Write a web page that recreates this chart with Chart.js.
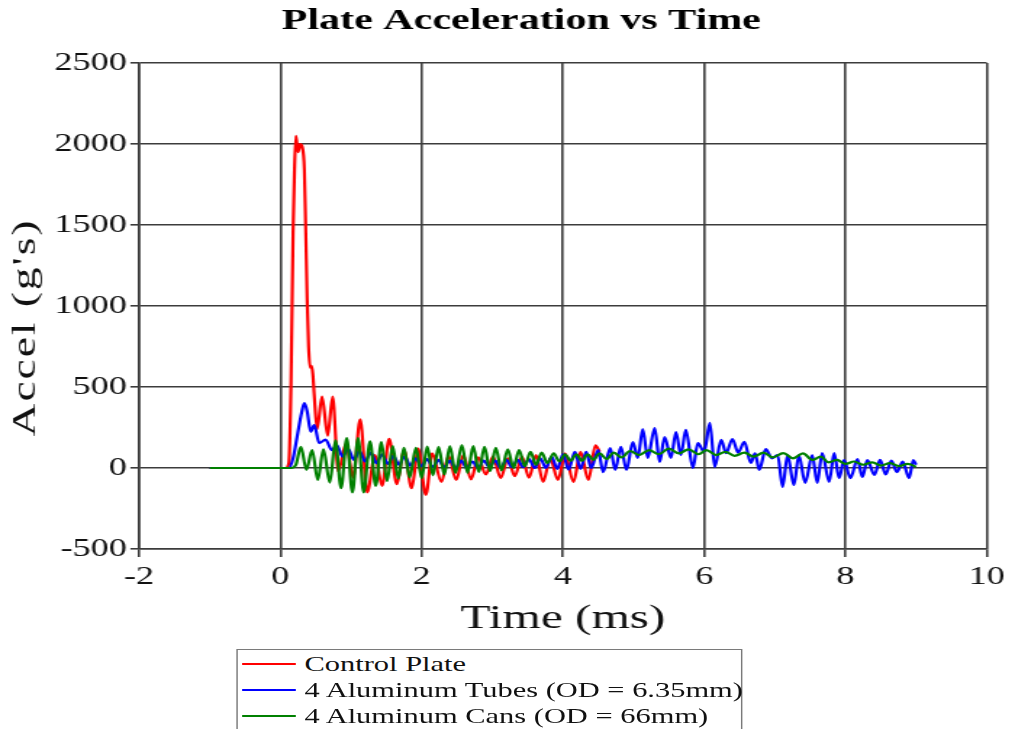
<!DOCTYPE html>
<html>
<head>
<meta charset="utf-8">
<script src="https://cdn.jsdelivr.net/npm/chart.js@4/dist/chart.umd.min.js"></script>
<style>
  html, body { margin: 0; padding: 0; background: #fff; overflow: hidden; width: 1012px; height: 729px; }
  #stage { position: absolute; left: 0; top: 0; width: 698px; height: 729px; transform: scaleX(1.45); transform-origin: 0 0; }
  #chart { position: absolute; left: 0; top: 0; }
  #legend { position: absolute; left: 163px; top: 649px; width: 349px; height: 90px; border: 1px solid #7a7a7a; box-sizing: border-box;
            font-family: "Liberation Serif", "Times New Roman", serif; font-size: 21px; color: #111; background: #fff; }
  .row { position: absolute; left: 0; height: 26px; width: 100%; }
  .sw { position: absolute; left: 3px; top: 12px; width: 37px; height: 2px; }
  .lb { position: absolute; left: 46px; top: 0; line-height: 26px; white-space: nowrap; }
</style>
</head>
<body>
<div id="stage">
  <canvas id="chart" width="698" height="642"></canvas>
  <div id="legend"></div>
</div>
<script>
// ---- data ----
const chartTitle = 'Plate Acceleration vs Time';
const xAxisTitle = 'Time (ms)';
const yAxisTitle = "Accel (g's)";
const seriesNames = ['Control Plate', '4 Aluminum Tubes (OD = 6.35mm)', '4 Aluminum Cans (OD = 66mm)'];
const seriesColors = ['#ff0000', '#0000ff', '#008000'];
const xRange = [-2, 10];
const yRange = [-500, 2500];

const redTime = [-1.0, 0.0, 0.08, 0.12, 0.15, 0.18, 0.20, 0.22, 0.25, 0.28,
  0.31, 0.34, 0.36, 0.38, 0.40, 0.42, 0.44, 0.46, 0.48, 0.52,
  0.59, 0.67, 0.74, 0.82, 0.93, 1.03, 1.13, 1.23, 1.34, 1.44,
  1.54, 1.65, 1.75, 1.86, 1.95, 2.06, 2.15, 2.28, 2.38, 2.49,
  2.59, 2.70, 2.80, 2.91, 3.01, 3.12, 3.22, 3.32, 3.42, 3.52,
  3.62, 3.72, 3.82, 3.93, 4.03, 4.15, 4.25, 4.36, 4.46, 4.52];
const redAccel = [0, 0, 0, 30, 500, 1450, 1840, 2050, 1950, 2000,
  1980, 1840, 1450, 1040, 750, 620, 630, 580, 450, 240,
  440, 200, 440, -20, 150, -60, 300, -150, 80, -110,
  180, -100, 110, -125, 120, -165, 90, -86, 75, -74,
  80, -70, 65, -40, 70, -62, 60, -50, 70, -60,
  80, -86, 60, -74, 90, -86, 100, -74, 140, 100];

const blueTime = [-1.0, 0.0, 0.12, 0.18, 0.24, 0.30, 0.34, 0.38, 0.43, 0.48,
  0.55, 0.64, 0.73, 0.80, 0.88, 0.96, 1.04, 1.12, 1.20, 1.28,
  1.36, 1.44, 1.52, 1.60, 1.68, 1.76, 1.84, 1.92, 2.00, 2.08,
  2.16, 2.24, 2.32, 2.40, 2.48, 2.56, 2.64, 2.72, 2.80, 2.88,
  2.96, 3.04, 3.12, 3.20, 3.28, 3.36, 3.44, 3.52, 3.60, 3.68,
  3.76, 3.84, 3.92, 4.00, 4.08, 4.17, 4.25, 4.33, 4.40, 4.50,
  4.57, 4.67, 4.74, 4.82, 4.90, 4.99, 5.06, 5.13, 5.20, 5.30,
  5.37, 5.44, 5.53, 5.60, 5.67, 5.74, 5.84, 5.91, 6.00, 6.08,
  6.15, 6.24, 6.31, 6.40, 6.48, 6.57, 6.66, 6.72, 6.78, 6.87,
  6.96, 7.04, 7.11, 7.18, 7.27, 7.34, 7.43, 7.53, 7.60, 7.67,
  7.77, 7.84, 7.91, 7.98, 8.07, 8.17, 8.24, 8.31, 8.41, 8.49,
  8.57, 8.65, 8.73, 8.81, 8.90, 8.96, 9.00];
const blueAccel = [0, 0, 0, 60, 200, 340, 400, 350, 224, 265,
  154, 175, 110, 142, 70, 120, 50, 105, 40, 95,
  30, 85, 25, 75, 20, 70, 15, 60, 10, 55,
  5, 50, 5, 45, 0, 45, 0, 40, 0, 45,
  5, 45, 0, 50, 5, 50, 5, 55, 0, 60,
  0, 70, -5, 85, -10, 100, -5, 99, 0, 111,
  -25, 123, -12, 130, -12, 160, 62, 240, 62, 247,
  37, 191, 62, 222, 80, 235, 0, 154, 99, 278,
  6, 173, 92, 179, 95, 162, 31, 90, -12, 117,
  60, 80, -117, 80, -105, 80, -92, 80, -92, 92,
  -86, 92, -62, 49, -62, 55, -55, 49, -43, 50,
  -40, 45, -25, 40, -62, 49, 20];

const greenTime = [-1.0, 0.0, 0.15, 0.22, 0.29, 0.37, 0.45, 0.53, 0.61, 0.70,
  0.78, 0.86, 0.94, 1.02, 1.10, 1.18, 1.27, 1.35, 1.43, 1.51,
  1.59, 1.67, 1.75, 1.83, 1.92, 2.00, 2.08, 2.16, 2.24, 2.32,
  2.40, 2.48, 2.57, 2.65, 2.73, 2.81, 2.89, 2.97, 3.05, 3.13,
  3.22, 3.30, 3.38, 3.46, 3.54, 3.62, 3.70, 3.78, 3.87, 3.95,
  4.03, 4.11, 4.19, 4.27, 4.35, 4.43, 4.52, 4.62, 4.72, 4.83,
  4.95, 5.08, 5.22, 5.36, 5.50, 5.64, 5.78, 5.92, 6.03, 6.17,
  6.30, 6.43, 6.57, 6.70, 6.84, 6.97, 7.12, 7.26, 7.40, 7.53,
  7.65, 7.76, 7.88, 8.00, 8.12, 8.25, 8.38, 8.50, 8.63, 8.76,
  8.88, 9.00];
const greenAccel = [0, 0, 0, 20, 130, -12, 111, -74, 115, -90,
  170, -125, 185, -150, 185, -150, 165, -110, 160, -80,
  135, -65, 125, -58, 125, -62, 132, -45, 130, -40,
  135, -31, 142, -30, 135, -25, 130, -20, 125, -15,
  115, 0, 111, 10, 100, 20, 95, 30, 90, 40,
  85, 45, 85, 45, 85, 50, 90, 55, 95, 65,
  105, 80, 110, 85, 120, 90, 115, 85, 110, 80,
  100, 75, 95, 70, 95, 65, 92, 60, 90, 50,
  70, 35, 50, 25, 40, 20, 35, 15, 30, 12,
  25, 8];

// ---- build ----
const FONT = '"Liberation Serif", "Times New Roman", Times, serif';
Chart.defaults.font.family = FONT;
Chart.defaults.color = '#111';

function pts(ts, vs) {
  const n = Math.min(ts.length, vs.length);
  const out = [];
  for (let i = 0; i < n; i++) out.push({ x: ts[i], y: vs[i] });
  return out;
}

const times = [redTime, blueTime, greenTime];
const accels = [redAccel, blueAccel, greenAccel];
const drawOrder = [2, 1, 0];

const datasets = seriesNames.map((name, i) => ({
  label: name,
  data: pts(times[i], accels[i]),
  borderColor: seriesColors[i],
  backgroundColor: seriesColors[i],
  borderWidth: 2.2,
  pointRadius: 0,
  fill: false,
  cubicInterpolationMode: 'monotone',
  order: drawOrder[i]
}));

const gridColor = '#3c3c3c';

const yTitlePlugin = {
  id: 'yTitle',
  afterDraw(chart) {
    const ctx = chart.ctx;
    ctx.save();
    ctx.font = '24px ' + FONT;
    ctx.fillStyle = '#111';
    ctx.textBaseline = 'alphabetic';
    ctx.textAlign = 'center';
    ctx.translate(23.6, 327.5);
    ctx.rotate(-Math.PI / 2);
    ctx.scale(1.9, 1);
    if ('letterSpacing' in ctx) ctx.letterSpacing = '1px';
    ctx.fillText(yAxisTitle, 0, 0);
    ctx.restore();
  }
};

new Chart(document.getElementById('chart'), {
  type: 'line',
  data: { datasets },
  options: {
    responsive: false,
    animation: false,
    events: [],
    layout: { padding: { left: 36, right: 15, top: 0, bottom: 0 } },
    plugins: {
      legend: { display: false },
      tooltip: { enabled: false },
      title: {
        display: true,
        text: chartTitle,
        color: '#000',
        font: { family: FONT, size: 29, weight: 'bold' },
        padding: { top: 4, bottom: 24.2 }
      }
    },
    scales: {
      x: {
        type: 'linear',
        min: xRange[0], max: xRange[1],
        ticks: { stepSize: 2, font: { size: 25 }, color: '#111', padding: 5, maxRotation: 0,
                 callback: v => String(v) },
        grid: { color: gridColor, lineWidth: 1.6, tickLength: 8, drawTicks: true },
        border: { color: gridColor, width: 1.6 },
        title: { display: true, text: xAxisTitle, color: '#111', font: { size: 34 }, padding: { top: 0, bottom: 2.6 } },
        afterFit(s) { s.height = 93; }
      },
      y: {
        type: 'linear',
        min: yRange[0], max: yRange[1],
        ticks: { stepSize: 500, font: { size: 25 }, color: '#111', padding: 2.3,
                 callback: v => String(v) },
        grid: { color: gridColor, lineWidth: 1.6, tickLength: 6, drawTicks: true },
        border: { color: gridColor, width: 1.6 },
        title: { display: false },
        afterFit(s) { s.width = 59.9; }
      }
    }
  },
  plugins: [yTitlePlugin]
});

// HTML legend built from the series
const legend = document.getElementById('legend');
const rowTops = [1, 27, 53];
seriesNames.forEach((name, i) => {
  const row = document.createElement('div');
  row.className = 'row';
  row.style.top = rowTops[i] + 'px';
  const sw = document.createElement('div');
  sw.className = 'sw';
  sw.style.background = seriesColors[i];
  const lb = document.createElement('div');
  lb.className = 'lb';
  lb.textContent = name;
  row.appendChild(sw);
  row.appendChild(lb);
  legend.appendChild(row);
});
</script>
</body>
</html>
